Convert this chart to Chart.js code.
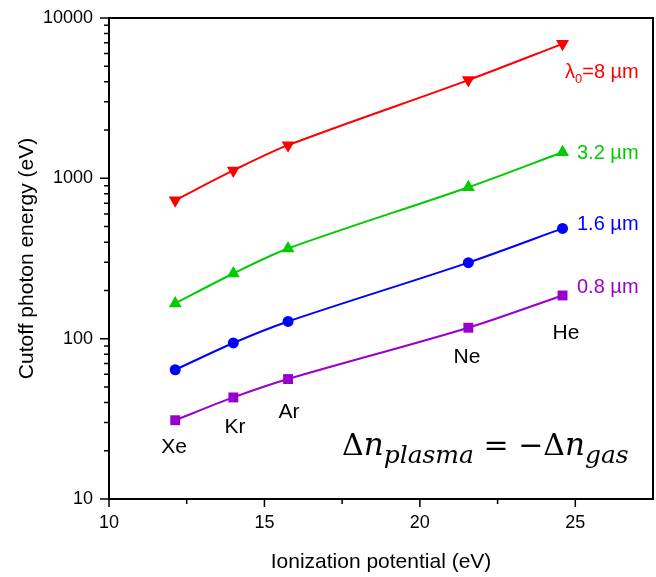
<!DOCTYPE html>
<html>
<head>
<meta charset="utf-8">
<script src="https://cdn.jsdelivr.net/npm/chart.js@4"></script>
<style>
  html, body { margin: 0; padding: 0; background: #fff; }
  #wrap { width: 656px; height: 577px; }
</style>
</head>
<body>
<div id="wrap"><canvas id="chart" width="656" height="577"></canvas></div>
<script>
// gases and their ionization potentials (eV)
const gases = ["Xe", "Kr", "Ar", "Ne", "He"];
const ionization = [12.13, 14.0, 15.76, 21.56, 24.59];

// cutoff photon energy (eV) per driving wavelength
const cutoff8um = [730, 1120, 1610, 4100, 6900];
const cutoff3p2um = [166, 255, 365, 880, 1455];
const cutoff1p6um = [64, 94, 128, 298, 487];
const cutoff0p8um = [31, 43, 56, 117, 186];

const seriesLabels = ["λ0=8 µm", "3.2 µm", "1.6 µm", "0.8 µm"];

// axis ticks
const xMajorTicks = [10, 15, 20, 25];
const xMinorTicks = [12.5, 17.5, 22.5];
const yMajorTicks = [10, 100, 1000, 10000];
const yMinorTicks = [20, 30, 40, 50, 60, 70, 80, 90, 200, 300, 400, 500, 600, 700, 800, 900,
                     2000, 3000, 4000, 5000, 6000, 7000, 8000, 9000];

const FONT = "'Liberation Sans', Arial, sans-serif";
const MATH = "'DejaVu Serif', 'Liberation Serif', serif";

function series(label, ys, color, style, radius, rotation) {
    return {
        label: label,
        data: ionization.map((x, i) => ({ x: x, y: ys[i] })),
        showLine: true,
        borderColor: color,
        backgroundColor: color,
        borderWidth: 2,
        tension: 0.3,
        pointStyle: style,
        pointRadius: radius,
        pointHoverRadius: radius,
        pointRotation: rotation,
        pointBorderWidth: 0,
    };
}

// frame, tick marks and text annotations
const decorPlugin = {
    id: "decor",
    afterDraw(chart) {
        const ctx = chart.ctx;
        const { left, right, top, bottom } = chart.chartArea;
        const xs = chart.scales.x, ys = chart.scales.y;
        ctx.save();
        ctx.strokeStyle = "#000";
        ctx.lineWidth = 2;
        ctx.beginPath();
        ctx.moveTo(left - 1, top); ctx.lineTo(right, top); ctx.lineTo(right, bottom + 1);
        ctx.stroke();

        ctx.lineWidth = 1.5;
        ctx.beginPath();
        yMajorTicks.forEach(v => { const p = ys.getPixelForValue(v); ctx.moveTo(left - 9, p); ctx.lineTo(left, p); });
        yMinorTicks.forEach(v => { const p = ys.getPixelForValue(v); ctx.moveTo(left - 5, p); ctx.lineTo(left, p); });
        xMajorTicks.forEach(v => { const p = xs.getPixelForValue(v); ctx.moveTo(p, bottom); ctx.lineTo(p, bottom + 8); });
        xMinorTicks.forEach(v => { const p = xs.getPixelForValue(v); ctx.moveTo(p, bottom); ctx.lineTo(p, bottom + 5); });
        ctx.stroke();

        // series labels at the right
        const labelPos = [[565, 72], [577, 153], [577, 224], [577, 287]];
        ctx.textBaseline = "middle";
        ctx.textAlign = "left";
        chart.data.datasets.forEach((ds, i) => {
            ctx.fillStyle = ds.borderColor;
            ctx.font = "20px " + FONT;
            let [x, y] = labelPos[i];
            if (i === 0) {
                ctx.fillText("λ", x, y);
                x += ctx.measureText("λ").width;
                ctx.font = "13px " + FONT;
                ctx.fillText("0", x, y + 7);
                x += ctx.measureText("0").width;
                ctx.font = "20px " + FONT;
                ctx.fillText("=8 µm", x, y);
            } else {
                ctx.fillText(seriesLabels[i], x, y);
            }
        });

        // gas names
        const gasPos = [[174, 447], [235, 427], [289, 412], [467, 357], [566, 333]];
        ctx.fillStyle = "#000";
        ctx.font = "21px " + FONT;
        ctx.textAlign = "center";
        gases.forEach((g, i) => ctx.fillText(g, gasPos[i][0], gasPos[i][1]));

        // equation
        ctx.textAlign = "left";
        ctx.textBaseline = "alphabetic";
        const base = 455;
        let x = 342;
        const parts = [
            ["Δ", "30px", 0, ""],
            ["n", "31px", 0, "italic "],
            ["plasma", "25px", 8, "italic "],
            [" = −Δ", "30px", 0, ""],
            ["n", "31px", 0, "italic "],
            ["gas", "25px", 8, "italic "],
        ];
        parts.forEach(([t, size, dy, st]) => {
            ctx.font = st + size + " " + MATH;
            ctx.fillText(t, x, base + dy);
            x += ctx.measureText(t).width;
        });
        ctx.restore();
    },
};

new Chart(document.getElementById("chart"), {
    type: "scatter",
    data: {
        datasets: [
            series(seriesLabels[0], cutoff8um, "#ff0000", "triangle", 7.5, 180),
            series(seriesLabels[1], cutoff3p2um, "#00cc00", "triangle", 7.5, 0),
            series(seriesLabels[2], cutoff1p6um, "#0000ff", "circle", 5.5, 0),
            series(seriesLabels[3], cutoff0p8um, "#9900cc", "rect", 7, 0),
        ],
    },
    options: {
        responsive: false,
        animation: false,
        layout: { autoPadding: false, padding: { top: 18, right: 3, left: 0, bottom: 0 } },
        plugins: { legend: { display: false }, tooltip: { enabled: false } },
        scales: {
            x: {
                type: "linear",
                min: 10,
                max: 27.5,
                afterFit: s => { s.height = 78; s.paddingLeft = 0; s.paddingRight = 0; },
                afterBuildTicks: s => { s.ticks = xMajorTicks.map(v => ({ value: v })); },
                grid: { display: true, drawOnChartArea: false, drawTicks: false },
                border: { display: true, color: "#000", width: 2 },
                ticks: { padding: 13, color: "#000", font: { family: FONT, size: 18 } },
                title: {
                    display: true, text: "Ionization potential (eV)", color: "#000",
                    font: { family: FONT, size: 21 }, padding: { bottom: 2, top: 0 },
                },
            },
            y: {
                type: "logarithmic",
                min: 10,
                max: 10000,
                afterFit: s => { s.width = 109; s.paddingTop = 0; s.paddingBottom = 0; },
                afterBuildTicks: s => { s.ticks = yMajorTicks.map(v => ({ value: v })); },
                grid: { display: true, drawOnChartArea: false, drawTicks: false },
                border: { display: true, color: "#000", width: 2 },
                ticks: {
                    padding: 16, color: "#000", font: { family: FONT, size: 18 },
                    callback: v => String(v),
                },
                title: {
                    display: true, text: "Cutoff photon energy (eV)", color: "#000",
                    font: { family: FONT, size: 21 }, padding: { top: 15, bottom: 0 },
                },
            },
        },
    },
    plugins: [decorPlugin],
});
</script>
</body>
</html>
